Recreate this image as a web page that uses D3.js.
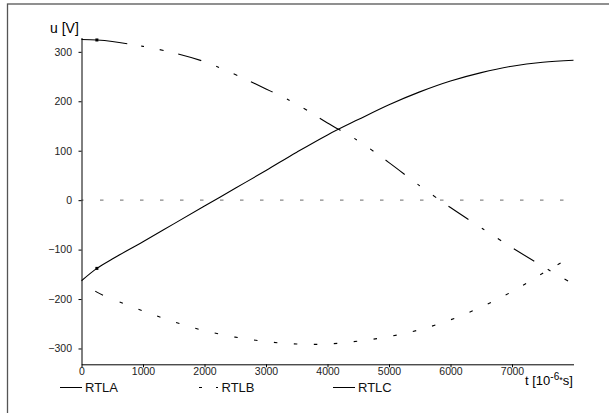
<!DOCTYPE html>
<html>
<head>
<meta charset="utf-8">
<script src="https://cdn.jsdelivr.net/npm/d3@7"></script>
<style>
  body { margin: 0; background: #fff; }
  svg { display: block; font-family: "Liberation Sans", Arial, sans-serif; }
</style>
</head>
<body>
<svg width="609" height="413"></svg>
<script>
// time in 10^-6 s
const time = [0, 250, 500, 1000, 1500, 2000, 2500, 3000, 3500, 4000, 4500, 5000, 5500, 6000, 6500, 7000, 7500, 8000];
const rtla = [-163, -138, -119, -84, -48, -12, 24, 60, 97, 132, 163, 193, 219, 241, 258, 271, 279, 283];
const rtlb = [325, 324, 321, 311, 298, 280, 254, 225, 194, 156, 120, 76, 29, -15, -56, -96, -134, -170];
const rtlc = [-163, -186, -200, -224, -246, -264, -277, -286, -291, -291, -285, -276, -262, -242, -216, -185, -148, -112];

const yTicks = [-300, -200, -100, 0, 100, 200, 300];
const xTicks = [0, 1000, 2000, 3000, 4000, 5000, 6000, 7000];
const legendNames = ["RTLA", "RTLB", "RTLC"];

const svg = d3.select("svg");

const x = d3.scaleLinear().domain([0, 8000]).range([81.5, 573.5]);
const y = d3.scaleLinear().domain([-332, 329]).range([364.3, 37.5]);

// outer frame, only top and left edges fall inside the picture
svg.append("rect")
	.attr("x", 7.5).attr("y", 4)
	.attr("width", 800).attr("height", 600)
	.attr("fill", "none")
	.attr("stroke", "#555")
	.attr("stroke-width", 1.3);

// zero line
svg.append("line")
	.attr("x1", x(0)).attr("x2", x(8000))
	.attr("y1", y(0)).attr("y2", y(0))
	.attr("stroke", "#888")
	.attr("stroke-width", 1.4)
	.attr("stroke-dasharray", "3.5,16.5")
	.attr("stroke-dashoffset", 1.5);

const yAxis = svg.append("g")
	.attr("transform", `translate(${x(0)},0)`)
	.call(d3.axisLeft(y).tickValues(yTicks).tickFormat(d3.format("d"))
		.tickSize(3).tickSizeOuter(0).tickPadding(6.5));

const xAxis = svg.append("g")
	.attr("transform", `translate(0,${y.range()[0]})`)
	.call(d3.axisBottom(x).tickValues(xTicks).tickFormat(d3.format("d"))
		.tickSize(3).tickSizeOuter(0).tickPadding(0.5));

[yAxis, xAxis].forEach(g => {
	g.attr("font-family", null).attr("font-size", 10.5);
	g.selectAll("text").attr("fill", "#222");
	g.selectAll("path, line").attr("stroke", "#000");
});

svg.append("text")
	.attr("x", 50).attr("y", 32.5)
	.attr("font-size", 14)
	.text("u [V]");

const xt = svg.append("text")
	.attr("x", 525).attr("y", 385)
	.attr("font-size", 13);
xt.append("tspan").text("t [10");
xt.append("tspan").attr("font-size", 10).attr("dy", -5).text("-6");
xt.append("tspan").attr("font-size", 9).attr("dy", 3).text("*");
xt.append("tspan").attr("dy", 2).text("s]");

// build a dash array: a fixed start, then a repeated pattern up to the path length
function dashes(prefix, pattern, len) {
	const a = prefix.slice();
	let s = d3.sum(a), i = 0;
	while (s < len) {
		const v = pattern[i % pattern.length];
		a.push(v); s += v; i++;
	}
	if (a.length % 2) a.push(len);
	return a.join(",");
}

const line = d3.line()
	.x(d => x(d[0]))
	.y(d => y(d[1]))
	.curve(d3.curveCatmullRom);

const series = [
	{ name: "RTLA", values: rtla, prefix: null, marker: true },
	{ name: "RTLB", values: rtlb, prefix: [46, 14], pattern: [3, 16, 4, 15, 24, 16], marker: true },
	{ name: "RTLC", values: rtlc, prefix: [0, 17, 9, 18], pattern: [3.5, 16.5], marker: false }
];

series.forEach(s => {
	const pts = time.map((t, i) => [t, s.values[i]]);
	const p = svg.append("path")
		.datum(pts)
		.attr("d", line)
		.attr("fill", "none")
		.attr("stroke", "#000")
		.attr("stroke-width", 1.1);
	if (s.prefix) {
		const len = p.node().getTotalLength();
		p.attr("stroke-dasharray", dashes(s.prefix, s.pattern, len));
	}
	// small marker at the first sample after t = 0
	if (s.marker) {
		svg.append("rect")
			.attr("x", x(time[1]) - 1.5)
			.attr("y", y(s.values[1]) - 1.5)
			.attr("width", 3).attr("height", 3)
			.attr("fill", "#000");
	}
});

// legend
const legendY = 387.5;
const lg = svg.append("g");
lg.append("line").attr("x1", 60).attr("x2", 82).attr("y1", legendY).attr("y2", legendY).attr("stroke", "#000");
lg.append("line").attr("x1", 199).attr("x2", 202).attr("y1", legendY).attr("y2", legendY).attr("stroke", "#000");
lg.append("line").attr("x1", 216).attr("x2", 218).attr("y1", legendY).attr("y2", legendY).attr("stroke", "#000");
lg.append("line").attr("x1", 333).attr("x2", 355).attr("y1", legendY).attr("y2", legendY).attr("stroke", "#000");
lg.selectAll("text")
	.data(legendNames)
	.join("text")
	.attr("x", (d, i) => [85, 221.5, 358][i])
	.attr("y", legendY + 4.5)
	.attr("font-size", 13)
	.attr("fill", "#111")
	.text(d => d);
</script>
</body>
</html>
